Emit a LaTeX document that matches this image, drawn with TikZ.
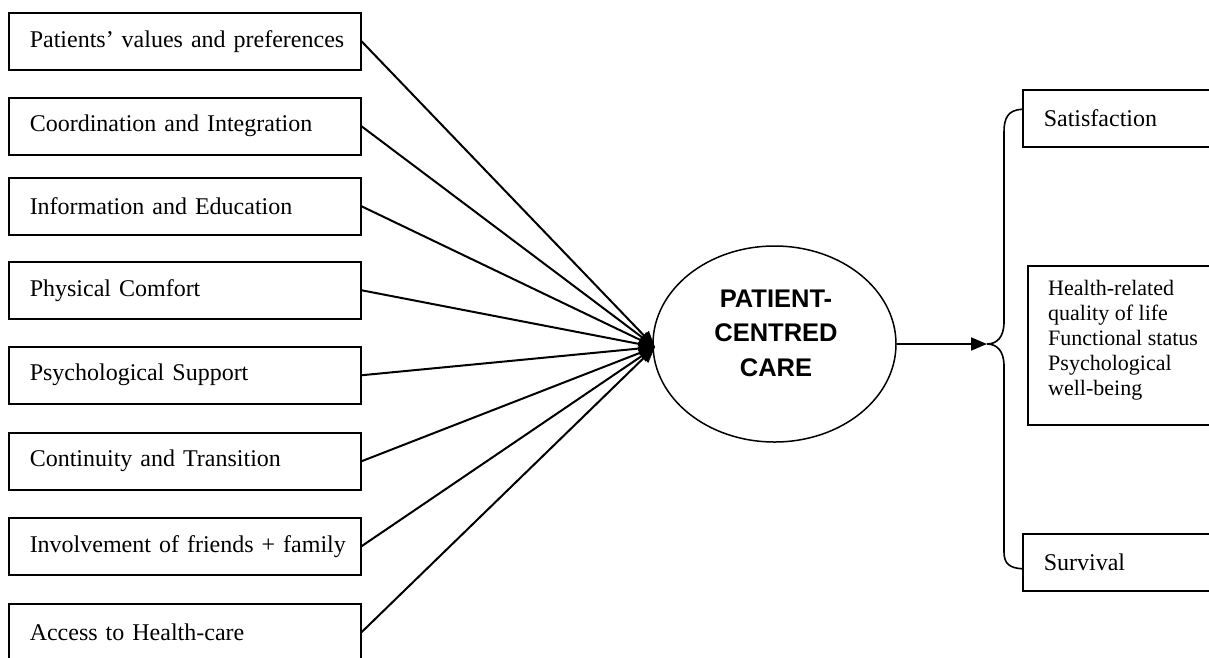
\documentclass[tikz,border=0pt]{standalone}
\usepackage{fontspec}
\setmainfont{Liberation Serif}
\newfontfamily\arialfont{Liberation Sans}
\usetikzlibrary{arrows.meta,calc,shapes.geometric}
\begin{document}
\begin{tikzpicture}[x=1pt,y=-1pt,
  lbox/.style={draw, line width=1.5pt, rectangle, anchor=north west,
    minimum height=57pt, text width=330pt, inner xsep=11pt, inner ysep=0pt,
    align=left, font=\fontsize{24}{28}\selectfont,
    execute at begin node={\hspace*{10pt}}},
  rbox/.style={draw, line width=1.5pt, rectangle, anchor=north west,
    minimum height=57pt, text width=178pt, inner xsep=21pt, inner ysep=0pt,
    align=left, font=\fontsize{24}{28}\selectfont},
  arr/.style={line width=2pt, -{Triangle[length=16pt,width=13pt]}},
  bracestyle/.style={line width=1.6pt}
]
\useasboundingbox (0,0) rectangle (1209,657);
\clip (0,0) rectangle (1209,657);

% left boxes
\node[lbox] (b1) at (8,12)  {Patients’ values and preferences};
\node[lbox] (b2) at (8,97)  {Coordination and Integration};
\node[lbox] (b3) at (8,177) {Information and Education};
\node[lbox] (b4) at (8,261) {Physical Comfort};
\node[lbox] (b5) at (8,346) {Psychological Support};
\node[lbox] (b6) at (8,432) {Continuity and Transition};
\node[lbox] (b7) at (8,517) {Involvement of friends + family};
\node[lbox] (b8) at (8,603) {Access to Health-care};

% central ellipse
\node[ellipse, draw, line width=1.5pt, minimum width=243pt, minimum height=196pt] (pcc) at (774.5,344) {};
\node[font=\arialfont\bfseries\fontsize{25.5}{34.5}\selectfont, align=center] (pcclabel) at (776,333) {PATIENT-\\CENTRED\\CARE};

\coordinate (tip) at (655,347);
\foreach \b in {b1,b2,b3,b4,b5,b6,b7,b8}{
  \draw[arr] (\b.east) -- (tip);
}

% right boxes
\node[rbox] (sat) at (1022,89) {Satisfaction};
\node[draw, line width=1.5pt, rectangle, anchor=north west, minimum width=220pt, minimum height=159pt] (hq) at (1027,265) {};
\node[anchor=north west, align=left, inner sep=0pt, font=\fontsize{22}{25}\selectfont] (hqt) at (1048,280)
  {Health-related\\quality of life\\Functional status\\Psychological\\well-being};
\node[rbox] (sur) at (1022,533) {Survival};

% arrow to brace
\coordinate (bt) at (987,344);
\draw[arr] (pcc.east) -- (bt);

% brace
\draw[bracestyle] ($(sat.west)+(0,-9)$) .. controls (1008,110) and (1004,118) .. (1004,132)
  -- (1004,322) .. controls (1004,337) and (997,344) .. (bt)
  .. controls (997,344) and (1004,351) .. (1004,366)
  -- (1004,552) .. controls (1004,564) and (1010,568) .. ($(sur.west)+(0,6.5)$);
\end{tikzpicture}
\end{document}
